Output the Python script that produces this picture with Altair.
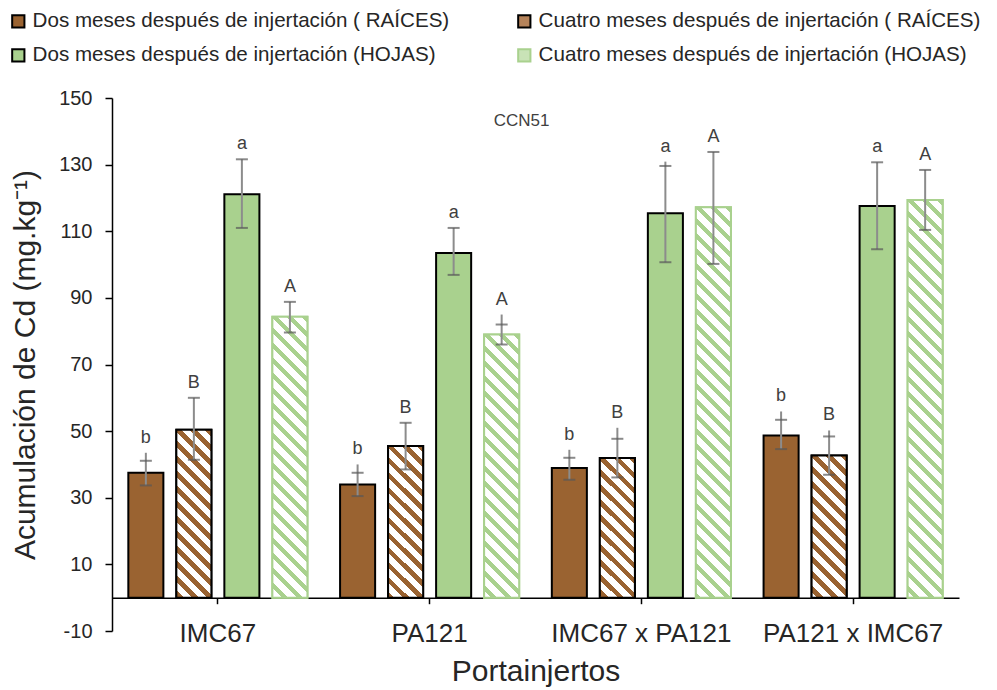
import altair as alt
import pandas as pd

# ---------------- data ----------------
portainjertos = ["IMC67", "PA121", "IMC67 x PA121", "PA121 x IMC67"]
series = [
    "Dos meses después de injertación ( RAÍCES)",
    "Cuatro meses después de injertación ( RAÍCES)",
    "Dos meses después de injertación (HOJAS)",
    "Cuatro meses después de injertación (HOJAS)",
]
hatched = [False, True, False, True]

# means per series (order of portainjertos)
dos_raices = [37.5, 34.0, 38.9, 48.7]
cuatro_raices = [50.4, 45.5, 41.9, 42.7]
dos_hojas = [121.1, 103.5, 115.4, 117.6]
cuatro_hojas = [84.3, 79.0, 117.2, 119.4]

# error bar caps (low / high) and top of the light error line
dos_raices_lo = [33.7, 30.5, 35.4, 44.6]
dos_raices_hi = [41.1, 37.5, 42.0, 53.4]
dos_raices_top = [43.5, 40.0, 44.4, 55.9]
cuatro_raices_lo = [41.4, 38.5, 36.1, 36.9]
cuatro_raices_hi = [60.0, 52.5, 47.7, 48.4]
cuatro_raices_top = [60.0, 52.5, 51.0, 50.2]
dos_hojas_lo = [111.0, 96.9, 100.7, 104.6]
dos_hojas_hi = [131.6, 111.0, 129.6, 130.7]
dos_hojas_top = [131.6, 111.0, 130.9, 130.7]
cuatro_hojas_lo = [79.6, 76.0, 100.2, 110.4]
cuatro_hojas_hi = [88.8, 82.0, 133.8, 128.4]
cuatro_hojas_top = [88.8, 85.0, 133.8, 128.4]

letters = ["b", "B", "a", "A"]

y_ticks = [-10, 10, 30, 50, 70, 90, 110, 130, 150]

annotation = "CCN51"
annotation_y = 143.0

# ---------------- styling ----------------
BROWN = "#9a6331"
GREEN = "#a9d18e"
FONT = "Liberation Sans, Arial, sans-serif"
W, H = 847, 533
Y_MIN, Y_MAX = -10, 150
PX_PER_UNIT = H / (Y_MAX - Y_MIN)
BAR_W = 35.0

fill_colors = [BROWN, "#b5835a", GREEN, "#c9e3b7"]
stroke_colors = ["black", "black", "black", GREEN]

means = [dos_raices, cuatro_raices, dos_hojas, cuatro_hojas]
los = [dos_raices_lo, cuatro_raices_lo, dos_hojas_lo, cuatro_hojas_lo]
his = [dos_raices_hi, cuatro_raices_hi, dos_hojas_hi, cuatro_hojas_hi]
tops = [dos_raices_top, cuatro_raices_top, dos_hojas_top, cuatro_hojas_top]

rows = []
for si, s in enumerate(series):
    for pi, p in enumerate(portainjertos):
        rows.append({
            "idx": si * 4 + pi,
            "Portainjerto": p,
            "Serie": s,
            "valor": means[si][pi],
            "lo": los[si][pi],
            "hi": his[si][pi],
            "top": tops[si][pi],
            "letra": letters[si],
        })
df = pd.DataFrame(rows)

x_enc = alt.X("Portainjerto:N", sort=portainjertos,
              scale=alt.Scale(domain=portainjertos, paddingInner=0, paddingOuter=0),
              axis=alt.Axis(title="Portainjertos", labelAngle=0, offset=-33.3,
                            labelFontSize=26, labelPadding=17, labelColor="#262626",
                            labelLimit=0,
                            titleFontSize=30, titleFontWeight="normal", titleColor="#262626",
                            titlePadding=10, domainColor="black", domainWidth=1.5,
                            tickColor="black", tickSize=6, tickWidth=1.5))
xoff_enc = alt.XOffset("Serie:N", sort=series,
                       scale=alt.Scale(domain=series, paddingInner=0.27, paddingOuter=0.34))
y_enc = alt.Y("valor:Q",
              scale=alt.Scale(domain=[Y_MIN, Y_MAX], nice=False, zero=False),
              axis=alt.Axis(title="Acumulación de Cd (mg.kg⁻¹)", values=y_ticks, grid=False,
                            labelExpr="datum.value + ''",
                            labelFontSize=20, labelColor="#262626", labelPadding=13,
                            titleFontSize=30, titleFontWeight="normal", titleColor="#262626",
                            titlePadding=18, domainColor="black", domainWidth=1.5,
                            tickColor="black", tickSize=7, tickWidth=1.5))

base = alt.Chart(df)

bars = base.mark_bar(strokeWidth=2).encode(
    x=x_enc,
    xOffset=xoff_enc,
    y=y_enc,
    y2=alt.datum(0),
    fill=alt.Fill("Serie:N", sort=series,
                  scale=alt.Scale(domain=series, range=fill_colors),
                  legend=alt.Legend(title=None, orient="none", legendX=-104, legendY=-87,
                                    direction="horizontal",
                                    columns=2, columnPadding=64, rowPadding=13,
                                    symbolType="square", symbolSize=150, symbolStrokeWidth=2,
                                    labelFontSize=20.6, labelLimit=0, labelOffset=4,
                                    labelColor="#262626")),
    stroke=alt.Stroke("Serie:N", sort=series,
                      scale=alt.Scale(domain=series, range=stroke_colors)),
)


def hatch_fill(color, value, frac, period=15.0):
    h = max(value * PX_PER_UNIT, 1.0)
    r = BAR_W / h
    t = (1 + r) / (1 + r * r)
    total = BAR_W + h
    n = total / period
    stops = []
    k = 0
    while k < n:
        a = k / n
        b = min((k + frac) / n, 1.0)
        c = min((k + 1) / n, 1.0)
        stops += [{"offset": a, "color": color}, {"offset": b, "color": color},
                  {"offset": b, "color": "white"}, {"offset": c, "color": "white"}]
        k += 1
    return {"gradient": "linear", "x1": 1.0, "y1": 0.0,
            "x2": 1 - t * r, "y2": t, "stops": stops}


hatch_layers = []
for si, s in enumerate(series):
    if not hatched[si]:
        continue
    color = BROWN if si == 1 else GREEN
    stroke = "black" if si == 1 else GREEN
    frac = 0.45 if si == 1 else 0.4
    for pi in range(len(portainjertos)):
        idx = si * 4 + pi
        layer = base.transform_filter(alt.datum.idx == idx).mark_bar(
            fill=hatch_fill(color, means[si][pi], frac), stroke=stroke, strokeWidth=2
        ).encode(x=x_enc, xOffset=xoff_enc, y=y_enc, y2=alt.datum(0))
        hatch_layers.append(layer)

err_line = base.mark_rule(color="#8c8c8c", strokeWidth=2).encode(
    x=x_enc, xOffset=xoff_enc, y=alt.Y("lo:Q"), y2="top:Q")
cap_lo = base.mark_tick(color="#595959", thickness=2, size=12).encode(
    x=x_enc, xOffset=xoff_enc, y=alt.Y("lo:Q"))
cap_hi = base.mark_tick(color="#595959", thickness=2, size=12).encode(
    x=x_enc, xOffset=xoff_enc, y=alt.Y("hi:Q"))
letras = base.mark_text(fontSize=18, color="#404040", baseline="bottom", dy=-6, font=FONT).encode(
    x=x_enc, xOffset=xoff_enc, y=alt.Y("top:Q"), text="letra:N")

titulo = alt.Chart(pd.DataFrame({"t": [annotation]})).mark_text(
    fontSize=17, color="#404040", font=FONT, dx=20
).encode(
    x=alt.X(datum=portainjertos[1]),
    xOffset=alt.XOffset(datum=series[3]),
    y=alt.Y(datum=annotation_y),
    text="t:N",
)

chart = alt.layer(bars, *hatch_layers, err_line, cap_lo, cap_hi, letras, titulo).properties(
    width=W, height=H,
    autosize=alt.AutoSizeParams(type="none"),
    padding={"left": 104, "top": 90, "right": 30, "bottom": 56},
).configure(font=FONT, view=alt.ViewConfig(stroke=None))

chart.save("out.html", embed_options={"renderer": "svg", "actions": False})
